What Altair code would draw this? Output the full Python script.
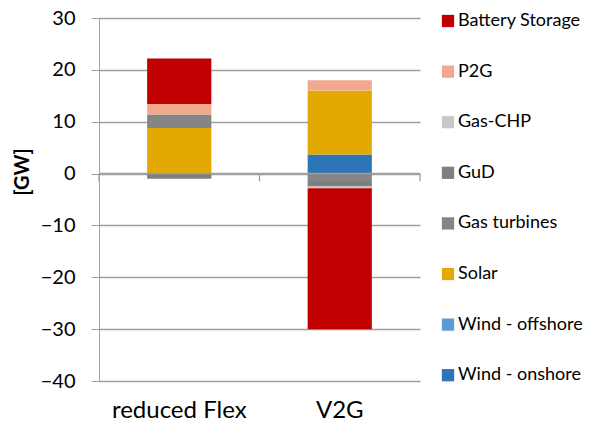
import altair as alt
import pandas as pd

# Data (long form)
scenario = ["reduced Flex", "reduced Flex", "reduced Flex", "reduced Flex", "reduced Flex",
            "V2G", "V2G", "V2G", "V2G", "V2G", "V2G", "V2G"]
source = ["Solar", "Gas turbines", "P2G", "Battery Storage", "GuD",
          "Wind - onshore", "Solar", "P2G", "Gas turbines", "GuD", "Gas-CHP", "Battery Storage"]
value = [8.8, 2.6, 2.0, 8.8, -1.0,
         3.7, 12.3, 2.0, -1.45, -1.05, -0.35, -27.15]

legend_order = ["Battery Storage", "P2G", "Gas-CHP", "GuD", "Gas turbines",
                "Solar", "Wind - offshore", "Wind - onshore"]
colors = ["#C00000", "#F2A88E", "#C8C8C8", "#7F7F7F", "#858585",
          "#E2A900", "#5B9BD5", "#2E75B6"]
stack_rank = {s: len(legend_order) - 1 - i for i, s in enumerate(legend_order)}

categories = ["reduced Flex", "V2G"]
y_ticks = [-40, -30, -20, -10, 0, 10, 20, 30]
category_boundaries = [0, 1, 2]

df = pd.DataFrame({"scenario": scenario, "source": source, "value": value})
df["rank"] = df["source"].map(stack_rank)

FONT = "Lato"
GRID = "#A0A0A0"
W, H = 321, 363
TOP = 10  # plot top at page y = 18

xscale = alt.Scale(domain=categories, paddingInner=0.6, paddingOuter=0.3)
yscale = alt.Scale(domain=[-40, 30], nice=False, zero=False)

bars = alt.Chart(df).mark_bar().encode(
    x=alt.X("scenario:N", scale=xscale, sort=categories,
            axis=alt.Axis(title=None, domain=False, ticks=False, labelAngle=0,
                          labelFontSize=24, labelFont=FONT, labelColor="#000000",
                          labelPadding=17)),
    y=alt.Y("value:Q", scale=yscale, stack="zero",
            axis=alt.Axis(values=y_ticks, title="[GW]", titleFontSize=20,
                          titleFont=FONT, titleFontWeight="bold", titleColor="#000000",
                          titlePadding=8, titleY=H * 30 / 70 - 2, titleAlign="center",
                          labelFontSize=20, labelFont=FONT, labelColor="#000000",
                          labelPadding=16, tickSize=8, tickColor=GRID,
                          domainColor=GRID, gridColor=GRID,
                          grid=True)),
    color=alt.Color("source:N",
                    scale=alt.Scale(domain=legend_order, range=colors),
                    legend=alt.Legend(title=None, orient="none", legendX=340, legendY=-6,
                                      symbolType="square", symbolSize=150,
                                      symbolStrokeWidth=0, labelFontSize=18,
                                      labelFont=FONT, labelColor="#000000",
                                      rowPadding=32.6, labelOffset=1)),
    order=alt.Order("rank:Q", sort="ascending"),
)

zero_line = alt.Chart(pd.DataFrame({"v": [0]})).mark_rule(
    color=GRID, strokeWidth=1.5
).encode(y=alt.Y("v:Q", scale=yscale))

ticks = alt.Chart(pd.DataFrame({"b": category_boundaries})).mark_rule(
    color=GRID, strokeWidth=1.3
).encode(
    x=alt.X("b:Q", scale=alt.Scale(domain=[0, 2], nice=False), axis=None),
    y=alt.datum(0, scale=yscale),
    y2=alt.datum(-1.5),
)

chart = alt.layer(bars, zero_line, ticks).resolve_scale(x="independent").properties(
    width=W, height=H,
    autosize=alt.AutoSizeParams(type="none"),
    padding={"left": 91, "top": TOP, "right": 167, "bottom": 40},
).configure_view(stroke=None).configure_axis(gridWidth=1.3)

chart.save("out.html", embed_options={"renderer": "svg", "actions": False})
